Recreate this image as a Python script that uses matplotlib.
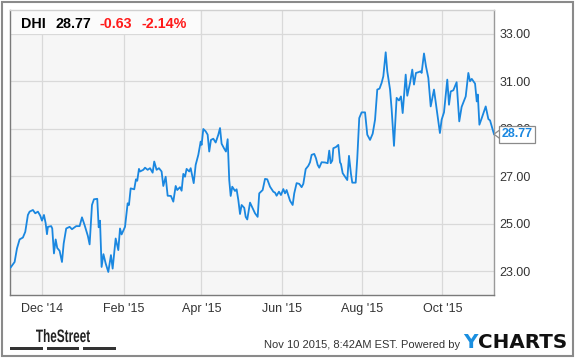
import numpy as np
import pandas as pd
import matplotlib
matplotlib.use('Agg')
import matplotlib.pyplot as plt
import matplotlib.dates as mdates
import matplotlib.transforms as mtransforms
from matplotlib.patches import Rectangle, Polygon, PathPatch
from matplotlib.textpath import TextPath
from matplotlib.font_manager import FontProperties

plt.rcParams['font.family'] = ['Liberation Sans', 'DejaVu Sans']

# price data (days counted from 1 Dec 2014)
start = pd.Timestamp('2014-12-01')
days = [-24.0, -21.0, -19.2, -17.2, -14.7, -12.9, -10.9, -9.6, -7.1, -5.3,
        -3.3, -1.5, -0.2, 1.3, 2.6, 3.6, 4.3, 6.8, 7.6, 8.9,
        10.2, 11.4, 13.2, 15.0, 16.3, 18.2, 20.8, 22.6, 24.6, 25.8,
        28.4, 30.2, 32.2, 34.7, 36.0, 37.8, 39.3, 41.8, 42.9, 43.9,
        45.1, 46.5, 48.2, 50.2, 52.2, 53.5, 55.8, 57.8, 59.1, 60.3,
        62.9, 64.9, 65.9, 67.2, 69.9, 71.2, 72.2, 73.5, 74.3, 76.8,
        78.1, 80.1, 81.9, 83.9, 85.1, 86.9, 88.7, 90.7, 92.0, 93.8,
        95.3, 97.8, 99.6, 101.4, 102.6, 104.7, 105.9, 107.2, 108.5, 109.7,
        111.7, 112.8, 115.1, 116.6, 118.6, 120.4, 121.1, 122.4, 124.2, 125.7,
        126.9, 128.2, 130.0, 131.8, 133.8, 135.1, 136.3, 138.1, 139.6, 140.9,
        142.1, 143.2, 144.4, 146.5, 147.7, 149.0, 150.3, 151.5, 153.5, 154.6,
        155.8, 157.9, 159.9, 161.7, 163.7, 164.9, 167.5, 169.3, 171.0, 173.1,
        175.6, 176.9, 178.1, 179.9, 181.4, 183.2, 184.5, 185.7, 188.3, 190.3,
        191.5, 193.3, 195.3, 197.1, 198.4, 200.2, 202.2, 203.5, 204.7, 206.7,
        208.0, 209.3, 210.5, 212.3, 214.9, 216.9, 218.1, 219.2, 220.4, 221.2,
        223.2, 225.0, 226.3, 227.0, 228.3, 230.1, 231.8, 233.1, 234.6, 235.6,
        238.2, 239.4, 240.9, 242.7, 245.3, 247.0, 249.1, 251.1, 252.9, 254.6,
        256.3, 257.9, 259.2, 261.0, 262.2, 264.3, 265.5, 267.3, 269.3, 271.1,
        272.6, 273.9, 276.2, 277.4, 279.5, 281.2, 282.5, 284.0, 285.8, 287.6,
        288.3, 290.1, 291.6, 293.4, 295.2, 297.7, 299.7, 302.2, 303.5, 305.3,
        307.8, 309.1, 310.4, 312.4, 314.9, 316.9, 318.7, 321.8, 323.8, 325.1,
        326.4, 328.9, 330.2, 331.0, 332.2, 334.0, 337.0, 339.0, 340.3, 343.3]
prices = [23.16, 23.39, 23.96, 24.34, 24.42, 24.66, 25.37, 25.51, 25.58, 25.44,
          25.51, 25.34, 25.13, 25.37, 25.02, 24.56, 24.87, 24.90, 24.80, 23.75,
          24.34, 23.98, 23.86, 23.39, 24.17, 24.80, 24.87, 24.77, 24.85, 24.90,
          24.90, 25.27, 24.94, 24.48, 24.13, 25.79, 26.03, 26.05, 24.85, 25.13,
          23.18, 23.72, 23.33, 22.97, 23.68, 23.11, 24.38, 23.89, 24.80, 24.55,
          24.87, 25.86, 25.79, 26.49, 26.45, 26.87, 26.81, 27.31, 27.20, 27.27,
          27.36, 27.27, 27.34, 27.15, 27.62, 27.27, 27.34, 27.20, 26.59, 26.98,
          26.18, 26.17, 25.93, 26.59, 26.42, 26.54, 26.39, 27.10, 26.98, 27.31,
          27.20, 27.34, 26.71, 27.48, 27.90, 28.46, 28.32, 28.99, 28.89, 28.75,
          28.04, 28.53, 28.58, 28.42, 28.75, 29.03, 28.37, 28.18, 28.04, 28.56,
          26.84, 26.17, 26.56, 26.38, 26.45, 26.00, 25.41, 25.79, 25.67, 25.29,
          25.18, 25.89, 25.65, 25.44, 25.29, 26.28, 26.42, 26.89, 26.87, 26.56,
          26.35, 26.31, 26.18, 26.35, 26.21, 26.46, 26.28, 26.42, 25.97, 25.79,
          26.28, 26.71, 26.68, 26.54, 26.68, 27.30, 27.44, 27.59, 27.90, 27.94,
          27.76, 27.48, 27.36, 27.59, 27.58, 27.55, 28.08, 27.55, 27.66, 28.18,
          28.23, 28.32, 27.58, 27.52, 27.13, 26.98, 26.84, 27.86, 27.10, 26.73,
          26.73, 27.76, 29.45, 29.69, 29.69, 28.75, 28.53, 28.79, 29.38, 30.65,
          30.69, 30.93, 31.21, 32.22, 31.42, 30.65, 29.83, 28.28, 30.30, 30.19,
          30.36, 29.66, 31.28, 30.39, 30.93, 31.49, 30.86, 31.35, 31.38, 31.42,
          31.35, 32.17, 31.63, 31.14, 29.94, 30.65, 29.83, 28.82, 29.38, 29.69,
          31.07, 30.01, 30.57, 30.62, 30.96, 29.31, 29.92, 30.36, 31.35, 31.00,
          31.10, 30.90, 30.15, 30.44, 29.17, 29.45, 29.94, 29.41, 29.35, 28.77]
y_ticks = [23, 25, 27, 29, 31, 33]
ticker = 'DHI'
last_price = '28.77'
change = '-0.63'
change_pct = '-2.14%'

dates = start + pd.to_timedelta(days, unit='D')

W, H = 575, 358
fig = plt.figure(figsize=(W / 100, H / 100), dpi=100)
ax = fig.add_axes([10 / W, 63 / H, 484 / W, 285 / H])
ax.set_facecolor('#f6f6f6')

ax.plot(dates, prices, color='#1a87e0', lw=1.3, zorder=3)

ax.set_xlim(dates[0] - pd.Timedelta(days=0.5), dates[-1])
ax.set_ylim(22, 34)
ax.set_yticks(y_ticks)
ax.yaxis.set_major_formatter(matplotlib.ticker.FormatStrFormatter('%.2f'))
ax.yaxis.tick_right()
ax.xaxis.set_major_locator(mdates.MonthLocator(bymonth=[12, 2, 4, 6, 8, 10]))
ax.xaxis.set_major_formatter(mdates.DateFormatter("%b '%y"))
ax.tick_params(axis='both', length=0, labelsize=9, labelcolor='#333333')
ax.tick_params(axis='y', pad=4)
ax.tick_params(axis='x', pad=6)
ax.set_axisbelow(True)
ax.grid(True, color='#d9d9d9', lw=0.9)
for side, c in [('left', '#7a7a7a'), ('bottom', '#7a7a7a'),
                ('top', '#d0d0d0'), ('right', '#9a9a9a')]:
    ax.spines[side].set_color(c)
    ax.spines[side].set_linewidth(1.0)

# header box over the grid
ax.add_patch(Rectangle((0, 0.916), 0.393, 0.084, transform=ax.transAxes,
                       facecolor='#fbfbfb', edgecolor='none', zorder=1))

fy = 1 - 28.5 / H
fig.text(21 / W, fy, ticker, fontsize=10.3, fontweight='bold', color='black')
fig.text(55 / W, fy, last_price, fontsize=10.3, fontweight='bold', color='black')
fig.text(100 / W, fy, change, fontsize=10.3, fontweight='bold', color='#ff1a1a')
fig.text(141 / W, fy, change_pct, fontsize=10.3, fontweight='bold', color='#ff1a1a')

# last value marker
trans = fig.dpi_scale_trans + mtransforms.ScaledTranslation(
    mdates.date2num(dates[-1]), prices[-1], ax.transData)
ax.add_patch(Polygon([(0, 0), (0.06, 0.045), (0.06, -0.045)], closed=True,
                     transform=trans, facecolor='white', edgecolor='#8a8a8a',
                     lw=0.9, clip_on=False, zorder=5))
ax.annotate(last_price, xy=(dates[-1], prices[-1]), xytext=(8, 0),
            textcoords='offset pixels', ha='left', va='center',
            fontsize=9, fontweight='bold', color='#1a87e0',
            bbox=dict(boxstyle='square,pad=0.2', fc='white', ec='#8a8a8a', lw=0.9),
            annotation_clip=False, zorder=6)

# footer: condensed "TheStreet" logo drawn as a squeezed text path
tp = TextPath((0, 0), 'TheStreet', size=18,
              prop=FontProperties(family='Liberation Sans', weight='bold'))
ext = tp.get_extents()
sx = 54 / ext.width
logo_tr = mtransforms.Affine2D().translate(-ext.x0, 0).scale(sx, 1.0).translate(36, H - 342)
fig.add_artist(PathPatch(tp, transform=logo_tr, facecolor='#222222',
                         edgecolor='none'))
for x0, x1 in [(10, 43), (47, 79), (83, 116)]:
    fig.add_artist(Rectangle((x0 / W, 1 - 350 / H), (x1 - x0) / W, 3 / H,
                             transform=fig.transFigure, color='#333333', lw=0))
fig.text(460 / W, 1 - 348 / H, 'Nov 10 2015, 8:42AM EST. Powered by',
         fontsize=8, color='#333333', ha='right')
fig.text(463 / W, 1 - 348 / H, 'Y', fontsize=14.3, fontweight='bold',
         family='DejaVu Sans', color='#1a8fe0')
fig.text(478 / W, 1 - 348 / H, 'CHARTS', fontsize=14.3, fontweight='bold',
         family='DejaVu Sans', color='#111111')

# outer frame
fig.add_artist(Rectangle((1.5 / W, 2 / H), 571.5 / W, 354 / H,
                         transform=fig.transFigure, fill=False,
                         edgecolor='#8a8a8a', lw=1.5))

fig.savefig('out.png', dpi=100)
